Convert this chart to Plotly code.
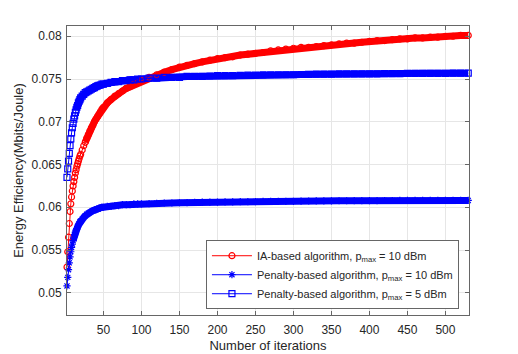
import plotly.graph_objects as go

# iteration index of each sampled point
ITER = [2, 3, 4, 5, 6, 7, 8, 9, 10, 11, 12, 13, 14, 15, 16, 17, 18, 19, 20,
        22, 24, 26, 28, 30, 32, 34, 36, 38, 40, 42, 44, 46, 48, 50,
        55, 60, 65, 70, 75, 80, 85, 90, 95, 100,
        110, 120, 130, 140, 150, 160, 170, 180, 190, 200,
        210, 220, 230, 240, 250, 260, 270, 280, 290, 300,
        310, 320, 330, 340, 350, 360, 370, 380, 390, 400,
        410, 420, 430, 440, 450, 460, 470, 480, 490, 500,
        510, 520, 530]

# IA-based algorithm, pmax = 10 dBm
EE_IA_10 = [0.0530, 0.0548, 0.0565, 0.0581, 0.0595, 0.0604, 0.0612, 0.0619, 0.0625, 0.0630,
            0.0635, 0.0640, 0.0644, 0.0648, 0.0651, 0.0654, 0.0657, 0.0660, 0.0662,
            0.0667, 0.0672, 0.0676, 0.0681, 0.0685, 0.0689, 0.0693, 0.0696, 0.0700, 0.0703,
            0.0706, 0.0709, 0.0712, 0.0715, 0.0717,
            0.0722, 0.0726, 0.0730, 0.0733, 0.0736, 0.0739, 0.0741, 0.0744, 0.0746, 0.0748,
            0.0752, 0.0755, 0.0758, 0.0761, 0.0764, 0.0766, 0.0768, 0.0770, 0.0772, 0.0774,
            0.0775, 0.0776, 0.0778, 0.0779, 0.0780, 0.0781, 0.0783, 0.0784, 0.0785, 0.0786,
            0.0787, 0.0787, 0.0788, 0.0789, 0.0790, 0.0791, 0.0792, 0.0792, 0.0793, 0.0794,
            0.0795, 0.0795, 0.0796, 0.0797, 0.0797, 0.0798, 0.0798, 0.0799, 0.0799, 0.0800,
            0.0800, 0.0801, 0.0801]

# Penalty-based algorithm, pmax = 10 dBm
EE_PEN_10 = [0.0508, 0.0518, 0.0527, 0.0535, 0.0542, 0.0548, 0.0553, 0.0557, 0.0561, 0.0565,
             0.0568, 0.0571, 0.0573, 0.0575, 0.0577, 0.0579, 0.0581, 0.0583, 0.0584,
             0.0586, 0.0588, 0.0590, 0.0592, 0.0593, 0.0594, 0.0595, 0.0596, 0.0597, 0.0597,
             0.0598, 0.0599, 0.0599, 0.0600, 0.0600,
             0.0601, 0.0601, 0.0602, 0.0602, 0.0603, 0.0603, 0.0603, 0.0604, 0.0604, 0.0604,
             0.06043, 0.06047, 0.0605, 0.0605, 0.06053, 0.06055, 0.06057, 0.0606, 0.0606, 0.0606,
             0.06062, 0.06063, 0.06065, 0.06066, 0.06067, 0.06068, 0.0607, 0.0607, 0.0607, 0.0607,
             0.06072, 0.06073, 0.06074, 0.06075, 0.06075, 0.06076, 0.06076, 0.06077, 0.06077, 0.06078,
             0.06078, 0.06079, 0.06079, 0.0608, 0.0608, 0.0608, 0.0608, 0.0608, 0.0608, 0.0608,
             0.0608, 0.0608, 0.0608]

# Penalty-based algorithm, pmax = 5 dBm
EE_PEN_5 = [0.0635, 0.0645, 0.0654, 0.0663, 0.0672, 0.0680, 0.0687, 0.0693, 0.0698, 0.0703,
            0.0707, 0.0711, 0.0714, 0.0717, 0.0719, 0.0722, 0.0724, 0.0726, 0.0728,
            0.0730, 0.0732, 0.0734, 0.0735, 0.0736, 0.0737, 0.0738, 0.0739, 0.0740, 0.0741,
            0.0742, 0.07425, 0.0743, 0.0744, 0.0744,
            0.0745, 0.0746, 0.0747, 0.0747, 0.0748, 0.0748, 0.0749, 0.0749, 0.0750, 0.0750,
            0.0751, 0.0751, 0.0752, 0.0752, 0.0752, 0.0753, 0.0753, 0.0753, 0.07535, 0.0754,
            0.0754, 0.0754, 0.07543, 0.07545, 0.07547, 0.07548, 0.0755, 0.0755, 0.0755, 0.0755,
            0.07553, 0.07555, 0.07556, 0.07557, 0.07558, 0.07559, 0.0756, 0.0756, 0.0756, 0.0756,
            0.0756, 0.07562, 0.07563, 0.07564, 0.07565, 0.07566, 0.07566, 0.07567, 0.07567, 0.07567,
            0.07568, 0.07568, 0.07568]

X_TICKS = [50, 100, 150, 200, 250, 300, 350, 400, 450, 500]
Y_TICKS = [0.05, 0.055, 0.06, 0.065, 0.07, 0.075, 0.08]

# label, values, colour, marker, first iteration where the markers merge into a band
SERIES = [
    ("IA-based algorithm, p<sub>max</sub> = 10 dBm", EE_IA_10, "#ff0000", "circle-open", 26),
    ("Penalty-based algorithm, p<sub>max</sub> = 10 dBm", EE_PEN_10, "#0000ff", "asterisk-open", 10),
    ("Penalty-based algorithm, p<sub>max</sub> = 5 dBm", EE_PEN_5, "#0000ff", "square-open", 14),
]

FONT = "Liberation Sans, Arial, sans-serif"
TXT = "#262626"

fig = go.Figure()

# solid band where markers overlap densely
for name, ys, color, sym, start in SERIES:
    xs = [x for x in ITER if x >= start]
    fig.add_trace(go.Scatter(x=xs, y=ys[len(ITER) - len(xs):], mode="lines",
                             line=dict(color=color, width=7),
                             showlegend=False, hoverinfo="skip"))

for name, ys, color, sym, start in SERIES:
    fig.add_trace(go.Scatter(
        x=ITER, y=ys, name=name, mode="lines+markers",
        line=dict(color=color, width=1),
        marker=dict(symbol=sym, size=6, color=color, line=dict(color=color, width=1.2)),
        cliponaxis=False,
    ))

axis_common = dict(showline=True, linecolor="#666666", linewidth=1, mirror="ticks",
                   ticks="inside", ticklen=4, tickcolor="#666666",
                   showgrid=True, gridcolor="#e6e6e6", gridwidth=1, zeroline=False,
                   tickfont=dict(family=FONT, size=12, color=TXT))

fig.update_xaxes(range=[2, 531], tickvals=X_TICKS, ticklabelstandoff=4,
                 title=dict(text="Number of iterations", standoff=4,
                            font=dict(family=FONT, size=13, color=TXT)),
                 **axis_common)
fig.update_yaxes(range=[0.0474, 0.0812], tickvals=Y_TICKS, ticklabelstandoff=2,
                 title=dict(text="Energy Efficiency(Mbits/Joule)", standoff=5,
                            font=dict(family=FONT, size=13, color=TXT)),
                 **axis_common)

# the page body adds an 8px offset, so the figure is 8px smaller on each side
fig.update_layout(
    width=510, height=346,
    margin=dict(l=59, r=49, t=18, b=39, autoexpand=False),
    paper_bgcolor="white", plot_bgcolor="white",
    font=dict(family=FONT, color=TXT),
    legend=dict(x=0.975, y=0.02, xanchor="right", yanchor="bottom",
                bgcolor="white", bordercolor="#666666", borderwidth=1,
                font=dict(family=FONT, size=11, color=TXT),
                tracegroupgap=0, itemwidth=40),
)

fig.write_html("out.html")
